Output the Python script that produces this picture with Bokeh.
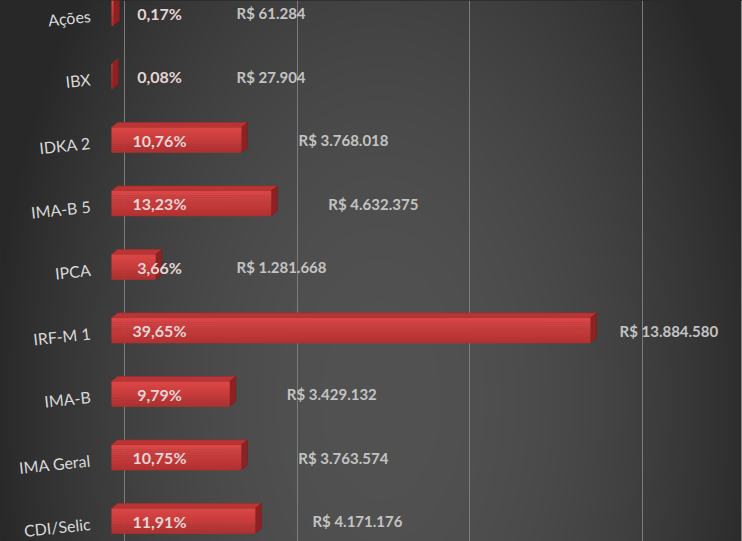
import numpy as np
from bokeh.plotting import figure
from bokeh.models import Range1d, FixedTicker, ColumnDataSource, GlobalInlineStyleSheet, Span
from bokeh.core.properties import value
from bokeh.embed import file_html
from bokeh.resources import INLINE

# ---------------- data ----------------
categories = ["Ações", "IBX", "IDKA 2", "IMA-B 5", "IPCA", "IRF-M 1", "IMA-B", "IMA Geral", "CDI/Selic"]
shares = [0.17, 0.08, 10.76, 13.23, 3.66, 39.65, 9.79, 10.75, 11.91]
amounts = [61284, 27904, 3768018, 4632375, 1281668, 13884580, 3429132, 3763574, 4171176]
grid_ticks = [0, 5_000_000, 10_000_000, 15_000_000]

# ---------------- layout constants ----------------
W, H = 742, 541
PX_PER_X = 34.5 / 1e6      # pixels per R$
X0_PX = 124                # pixel of x = 0 (back wall)
Y0_PX = 12.5               # pixel of first category centre
ROW_PX = 63.5              # pixels between categories

x_start = -X0_PX / PX_PER_X
x_end = (W - X0_PX) / PX_PER_X
y_hi = Y0_PX / ROW_PX                 # top of plot (category i sits at y = -i)
y_lo = -(H - Y0_PX) / ROW_PX          # bottom of plot

def px_x(n):
    return n / PX_PER_X

def px_y(n):
    return n / ROW_PX

p = figure(width=W, height=H, x_range=Range1d(x_start, x_end), y_range=Range1d(y_lo, y_hi),
           output_backend="svg", toolbar_location=None, min_border=0,
           min_border_left=0, min_border_right=0, min_border_top=0, min_border_bottom=0)
p.xaxis.visible = False
p.yaxis.visible = False
p.ygrid.visible = False
p.xgrid.ticker = FixedTicker(ticks=grid_ticks)
p.xgrid.grid_line_color = "#7c7c7c"
p.xgrid.grid_line_width = 1
p.outline_line_color = None
p.background_fill_color = "#2a2a2a"
p.border_fill_color = "#2a2a2a"
p.stylesheets = [GlobalInlineStyleSheet(css="html,body{margin:0;padding:0;overflow:hidden;background:#2a2a2a;}")]

# ---------------- background gradient (row 0 = bottom of screen) ----------------
yy, xx = np.mgrid[0:H, 0:W]
r2 = ((xx - 380) / 390.0) ** 2 + ((yy - 400) / 650.0) ** 2
g = (40 + 42 * np.clip(1 - r2, 0, 1)).astype(np.uint32)
img = ((255 << 24) | (g << 16) | (g << 8) | g).astype(np.uint32)
img = np.ascontiguousarray(img[::-1])
p.image_rgba(image=[img], x=x_start, y=y_lo, dw=x_end - x_start, dh=y_hi - y_lo, level="image")

# ---------------- 3D bars ----------------
n = len(categories)
ypos = [-i for i in range(n)]
DX = px_x(13)          # front face shift left
DDX = px_x(6)          # depth in x
DDY = px_y(5)          # depth in y (upwards)
HH = px_y(25) / 2      # half height of front face

front_l = [-DX] * n
front_r = [a - DX for a in amounts]
front_t = [y + HH for y in ypos]
front_b = [y - HH for y in ypos]

top_xs, top_ys, side_xs, side_ys = [], [], [], []
for l, r, t, b in zip(front_l, front_r, front_t, front_b):
    top_xs.append([l, r, r + DDX, l + DDX])
    top_ys.append([t, t, t + DDY, t + DDY])
    side_xs.append([r, r, r + DDX, r + DDX])
    side_ys.append([t, b, b + DDY, t + DDY])

p.patches(top_xs, top_ys, fill_color="#bb3434", line_color="#a52b2b", line_width=0.6)
p.patches(side_xs, side_ys, fill_color="#8e2222", line_color="#7c1d1d", line_width=0.6)

# smooth vertical shading of the front face
NB = 12
c_top = np.array([0xda, 0x46, 0x46])
c_bot = np.array([0xb3, 0x30, 0x30])
for k in range(NB):
    f = k / (NB - 1)
    col = "#%02x%02x%02x" % tuple(int(round(v)) for v in (c_top * (1 - f) + c_bot * f))
    t_f = 1 - 2 * k / NB
    b_f = 1 - 2 * (k + 1) / NB
    p.quad(left=front_l, right=front_r, top=[y + HH * t_f for y in ypos],
           bottom=[y + HH * b_f - px_y(0.3) for y in ypos], fill_color=col, line_color=None)

# ---------------- texts ----------------
pct_text = [f"{s:.2f}".replace(".", ",") + "%" for s in shares]
amt_text = ["R$ " + f"{a:,}".replace(",", ".") for a in amounts]
amt_x = [min(max(a + px_x(44), px_x(112)), px_x(495)) for a in amounts]

src = ColumnDataSource(dict(cat=categories, y=ypos, ycat=[y - px_y(2.5) for y in ypos],
                            pct=pct_text, amt=amt_text, ax=amt_x))

p.text(x=px_x(-34), y="ycat", text="cat", source=src, text_align="right", text_baseline="middle",
       angle=np.deg2rad(6), text_color="#d9d9d9", text_font=value("Lato"), text_font_size="16px")
p.text(x=px_x(35), y="y", text="pct", source=src, text_align="center", text_baseline="middle",
       text_color="#e8d4d4", text_font=value("Lato"), text_font_style="bold", text_font_size="16px")
p.text(x="ax", y="y", text="amt", source=src, text_align="left", text_baseline="middle",
       text_color="#c3c3c3", text_font=value("Lato"), text_font_style="bold", text_font_size="15px")

p.add_layout(Span(location=px_x(741 - X0_PX), dimension="height", line_color="#8c8c8c", line_width=1))

open("out.html", "w").write(file_html(p, INLINE))
